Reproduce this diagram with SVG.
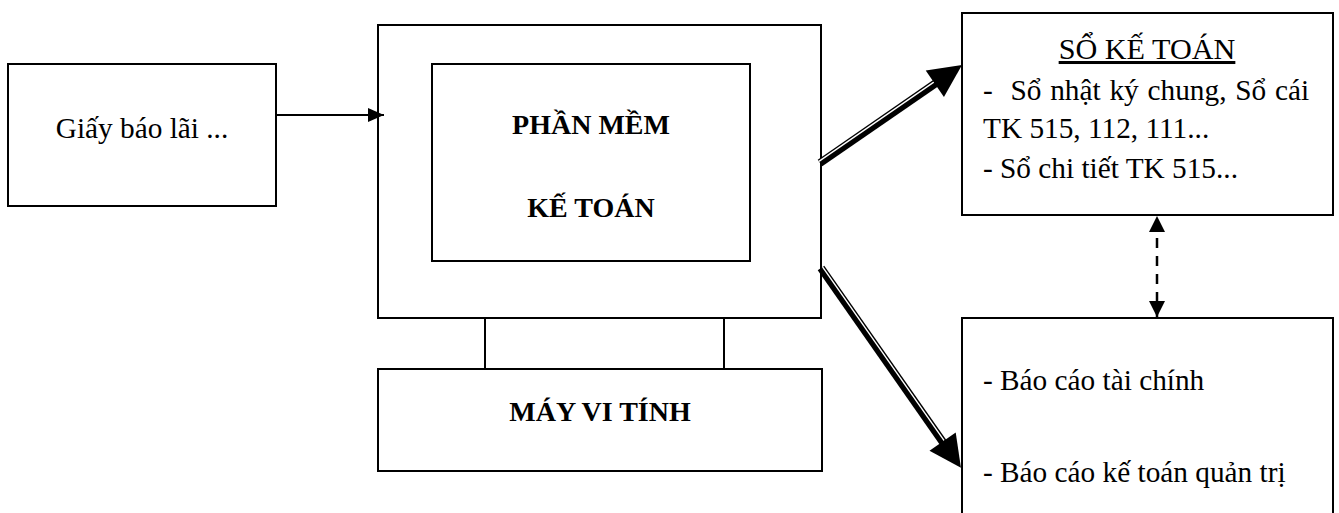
<svg xmlns="http://www.w3.org/2000/svg" width="1339" height="513" viewBox="0 0 1339 513">
<defs>
<style>
.box{fill:#fff;stroke:#000;stroke-width:2}
.ln{stroke:#000;stroke-width:2;fill:none}
.t{font-family:"Liberation Serif","Times New Roman",serif;font-size:29.3px;fill:#000}
.h{font-family:"Liberation Serif","Times New Roman",serif;font-size:30.2px;fill:#000}
.b{font-family:"Liberation Serif","Times New Roman",serif;font-size:28px;font-weight:bold;fill:#000}
</style>
<marker id="ah" viewBox="0 0 16 14" refX="16" refY="7" markerWidth="16" markerHeight="14" markerUnits="userSpaceOnUse" orient="auto">
<path d="M0,0 L16,7 L0,14 Z" fill="#000"/>
</marker>
<marker id="ahd" viewBox="0 0 16 16" refX="16" refY="8" markerWidth="16" markerHeight="16" markerUnits="userSpaceOnUse" orient="auto-start-reverse">
<path d="M0,0 L16,8 L0,16 Z" fill="#000"/>
</marker>
</defs>
<rect width="1339" height="513" fill="#fff"/>

<g id="giay-bao-lai">
<rect class="box" x="8" y="64" width="268" height="142"/>
<text class="t" x="142" y="138" text-anchor="middle">Giấy báo lãi ...</text>
</g>

<g id="may-vi-tinh">
<rect class="box" x="378" y="25" width="443" height="293"/>
<line class="ln" x1="485" y1="318" x2="485" y2="369"/>
<line class="ln" x1="724" y1="318" x2="724" y2="369"/>
<rect class="box" x="378" y="369" width="444" height="102"/>
<text class="b" x="600" y="421" text-anchor="middle">MÁY VI TÍNH</text>
</g>

<g id="phan-mem-ke-toan">
<rect class="box" x="432" y="64" width="318" height="197"/>
<text class="b" x="591" y="134" text-anchor="middle">PHẦN MỀM</text>
<text class="b" x="591" y="217" text-anchor="middle">KẾ TOÁN</text>
</g>

<g id="so-ke-toan">
<rect class="box" x="962" y="13" width="371" height="202"/>
<text class="h" x="1147" y="59" text-anchor="middle" text-decoration="underline">SỔ KẾ TOÁN</text>
<text class="t" x="983" y="100" xml:space="preserve" word-spacing="1.5">-  Sổ nhật ký chung, Sổ cái</text>
<text class="t" x="983" y="138">TK 515, 112, 111...</text>
<text class="t" x="983" y="178">- Sổ chi tiết TK 515...</text>
</g>

<g id="bao-cao">
<path class="ln" d="M962,520 L962,318 L1333,318 L1333,520"/>
<text class="t" x="983" y="390">- Báo cáo tài chính</text>
<text class="t" x="983" y="482">- Báo cáo kế toán quản trị</text>
</g>

<g id="connectors">
<line class="ln" x1="276" y1="115" x2="384" y2="115" marker-end="url(#ah)"/>
<line x1="1157" y1="216" x2="1157" y2="317" stroke="#000" stroke-width="2.5" stroke-dasharray="10,8" stroke-dashoffset="-4" marker-start="url(#ahd)" marker-end="url(#ahd)"/>
<g transform="translate(820,163) rotate(-34.6)">
<rect x="0" y="-4" width="142" height="8" fill="#000"/>
<rect x="0" y="-2.6" width="140" height="1.4" fill="#fff"/>
<path d="M139.5,-16 L172.5,0 L139.5,16 Z" fill="#000"/>
</g>
<g transform="translate(821,268) rotate(55)">
<rect x="0" y="-4" width="215" height="8" fill="#000"/>
<rect x="0" y="-2.6" width="212" height="1.4" fill="#fff"/>
<path d="M212,-16 L244,0 L212,16 Z" fill="#000"/>
</g>
</g>
</svg>
